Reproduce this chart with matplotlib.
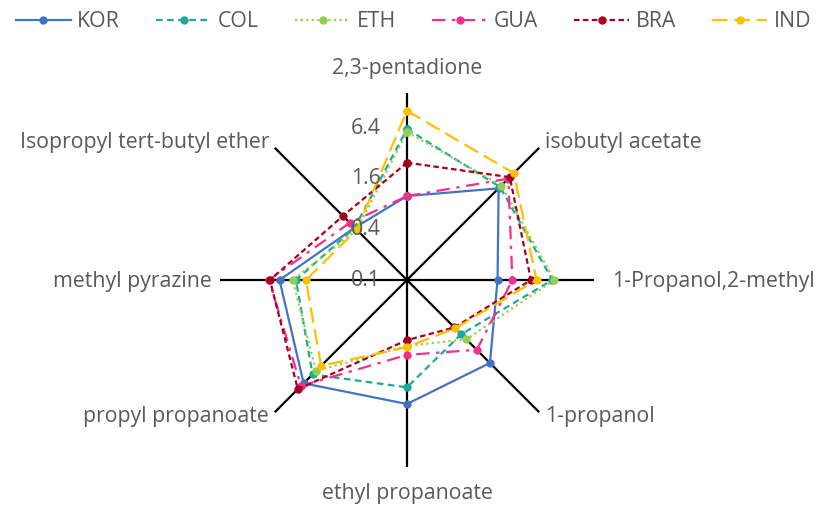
"""
Radar chart of volatile compounds (log scale, base 4) for six origins.
Saves out.png.
"""

import numpy as np
import matplotlib
matplotlib.use("Agg")
import matplotlib.pyplot as plt

plt.rcParams["font.family"] = ["Open Sans", "DejaVu Sans"]

compounds = [
    "2,3-pentadione",
    "isobutyl acetate",
    "1-Propanol,2-methyl",
    "1-propanol",
    "ethyl propanoate",
    "propyl propanoate",
    "methyl pyrazine",
    "Isopropyl tert-butyl ether",
]

kor = [1.0, 3.5, 1.2, 2.5, 3.0, 5.5, 3.3, 0.76]
col = [6.3, 3.7, 5.4, 0.82, 1.9, 3.9, 2.1, 0.76]
eth = [5.8, 3.9, 5.7, 1.0, 0.61, 3.4, 2.3, 0.70]
gua = [1.0, 5.1, 1.8, 1.5, 0.78, 6.1, 4.4, 0.92]
bra = [2.5, 5.4, 3.0, 0.63, 0.52, 6.9, 4.3, 1.2]
ind = [10.4, 6.3, 3.5, 0.65, 0.63, 2.8, 1.6, 0.70]

series_names = ["KOR", "COL", "ETH", "GUA", "BRA", "IND"]
tick_values = [0.1, 0.4, 1.6, 6.4]
tick_labels = ["0.1", "0.4", "1.6", "6.4"]

R_MIN = 0.1
R_MAX = 0.1 * 4 ** 3.7

TEXT_COLOR = "#595959"
FS = 15.3

styles = {
    "KOR": dict(color="#4472C4", linestyle="-"),
    "COL": dict(color="#1FA89A", linestyle=(0, (3, 2))),
    "ETH": dict(color="#92D050", linestyle=(0, (1, 1.5))),
    "GUA": dict(color="#F0308A", linestyle=(0, (6, 3, 1.5, 3))),
    "BRA": dict(color="#A50021", linestyle=(0, (2.5, 1.5))),
    "IND": dict(color="#FFC000", linestyle=(0, (7, 3))),
}

# label placement: (offset x, offset y in points, ha)
label_pos = [
    (0, 18, "center"),
    (4, 4, "left"),
    (13, -1, "left"),
    (4, -3, "left"),
    (0, -19, "center"),
    (-4, -3, "right"),
    (-6, -1, "right"),
    (-4, 4, "right"),
]


def main():
    fig = plt.figure(figsize=(8.27, 5.11), dpi=100)
    ax = fig.add_axes([0.266, 0.0861, 0.4522, 0.7319], projection="polar")
    ax.set_theta_zero_location("N")
    ax.set_theta_direction(-1)
    ax.set_rscale("log")
    ax.set_rlim(R_MIN, R_MAX)
    ax.grid(False)
    ax.spines["polar"].set_visible(False)
    ax.set_xticks([])
    ax.set_yticks([])
    ax.patch.set_alpha(0)

    n = len(compounds)
    angles = np.linspace(0, 2 * np.pi, n, endpoint=False)

    # spokes
    for a in angles:
        ax.plot([a, a], [R_MIN, R_MAX], color="black", lw=1.6, zorder=1)

    data = [kor, col, eth, gua, bra, ind]
    closed = np.append(angles, angles[0])
    for name, vals in zip(series_names, data):
        v = vals + vals[:1]
        ax.plot(closed, v, marker="o", markersize=5, lw=1.6,
                label=name, zorder=3, **styles[name])

    # radial tick labels along the vertical axis
    for v, t in zip(tick_values, tick_labels):
        ax.annotate(t, xy=(0, v), xytext=(-19, 0), textcoords="offset points",
                    ha="right", va="center", fontsize=FS, color=TEXT_COLOR)

    # category labels
    for a, name, (dx, dy, ha) in zip(angles, compounds, label_pos):
        ax.annotate(name, xy=(a, R_MAX), xytext=(dx, dy),
                    textcoords="offset points", ha=ha, va="center",
                    fontsize=FS, color=TEXT_COLOR, annotation_clip=False)

    fig.legend(loc="upper center", bbox_to_anchor=(0.5, 1.015), ncol=6,
               frameon=False, fontsize=FS, handlelength=2.6,
               columnspacing=1.7, handletextpad=0.3, labelcolor=TEXT_COLOR)

    fig.savefig("out.png", dpi=100)
    plt.close(fig)


if __name__ == "__main__":
    main()
